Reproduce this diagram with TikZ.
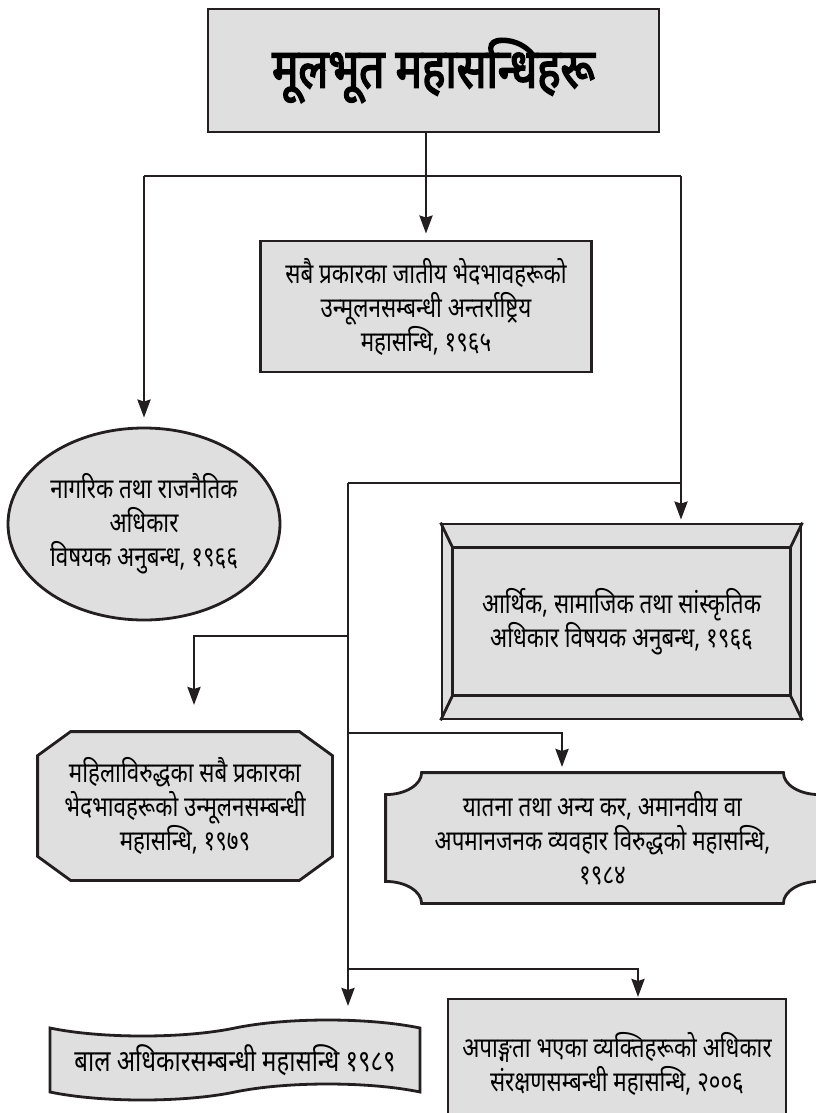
\documentclass[tikz,border=0pt]{standalone}
\usepackage{fontspec}
\newfontfamily\devfont[Script=Devanagari,FakeStretch=0.8]{Noto Sans}
\newfontfamily\devbold[Script=Devanagari,FakeStretch=0.8,FakeBold=3]{Noto Sans}
\usetikzlibrary{arrows.meta,shapes.geometric,shapes.symbols,backgrounds}
\definecolor{boxgray}{HTML}{DFDFDF}
\definecolor{inkline}{HTML}{231F20}
\tikzset{
  box/.style={draw=inkline,line width=2.8pt,fill=boxgray,align=center,inner sep=0pt,
    font=\devfont\fontsize{28pt}{34pt}\selectfont},
  wire/.style={draw=inkline,line width=2.7pt},
  arr/.style={wire,-{Stealth[length=18pt,width=13pt,inset=2pt]}},
}

\begin{document}
\begin{tikzpicture}[x=1pt,y=-1pt]
\useasboundingbox (0,0) rectangle (816,1113);
\clip (0,0) rectangle (816,1113);

% boxes
\node[box,minimum width=451pt,minimum height=123pt,font=\devbold\fontsize{55pt}{60pt}\selectfont]
   (title) at (433.5,70.5) {मूलभूत महासन्धिहरू};
\node[box,minimum width=331pt,minimum height=131pt] (racial) at (426,306.5)
   {सबै प्रकारका जातीय भेदभावहरूको\\उन्मूलनसम्बन्धी अन्तर्राष्ट्रिय\\महासन्धि, १९६५};
\node[box,ellipse,minimum width=272pt,minimum height=192pt] (civil) at (144,524)
   {नागरिक तथा राजनैतिक\\अधिकार\\विषयक अनुबन्ध, १९६६};
\node[box,minimum width=359pt,minimum height=195pt] (cultural) at (621.5,621.5)
   {आर्थिक, सामाजिक तथा सांस्कृतिक\\अधिकार विषयक अनुबन्ध, १९६६};
\draw[box,fill=none] ([shift={(12pt,-25pt)}]cultural.north west) rectangle ([shift={(-12pt,25pt)}]cultural.south east);
\foreach \c/\dx/\dy in {north west/12/-25,north east/-12/-25,south west/12/25,south east/-12/25}
   \draw[box] (cultural.\c) -- ([shift={(\dx pt,\dy pt)}]cultural.\c);
\node[box,draw=none,fill=none,minimum width=292pt,minimum height=146pt] (women) at (185,806)
   {महिलाविरुद्धका सबै प्रकारका\\भेदभावहरूको उन्मूलनसम्बन्धी\\महासन्धि, १९७९};
\node[box,draw=none,fill=none,minimum width=431pt,minimum height=128pt] (torture) at (602.5,838)
   {यातना तथा अन्य कर, अमानवीय वा\\अपमानजनक व्यवहार विरुद्धको महासन्धि,\\१९८४};
\begin{scope}[on background layer]
\path[box] ([xshift=33pt]women.north west) -- ([xshift=-33pt]women.north east)
   -- ([yshift=-24pt]women.north east) -- ([yshift=24pt]women.south east)
   -- ([xshift=-33pt]women.south east) -- ([xshift=33pt]women.south west)
   -- ([yshift=24pt]women.south west) -- ([yshift=-24pt]women.north west) -- cycle;
\path[box] ([xshift=36pt]torture.north west) -- ([xshift=-36pt]torture.north east)
   arc[start angle=180,end angle=270,x radius=36pt,y radius=22pt]
   -- ([yshift=22pt]torture.south east)
   arc[start angle=90,end angle=180,x radius=36pt,y radius=22pt]
   -- ([xshift=36pt]torture.south west)
   arc[start angle=0,end angle=90,x radius=36pt,y radius=22pt]
   -- ([yshift=-22pt]torture.north west)
   arc[start angle=270,end angle=360,x radius=36pt,y radius=22pt] -- cycle;
\end{scope}
\node[box,tape,tape bend height=16pt,minimum width=370pt,minimum height=80pt,
   font=\devfont\fontsize{30pt}{34pt}\selectfont] (child) at (235,1060)
   {बाल अधिकारसम्बन्धी महासन्धि १९८९};
\node[box,minimum width=338pt,minimum height=130pt] (disab) at (617,1064)
   {अपाङ्गता भएका व्यक्तिहरूको अधिकार\\संरक्षणसम्बन्धी महासन्धि, २००६};

% connectors
\coordinate (leftend) at (144,176);
\coordinate (rightend) at (681,176);
\coordinate (midjoin) at (681,483);
\coordinate (spine) at (348,483);
\coordinate (spineL) at (348,636);
\coordinate (spineR) at (348,733);
\coordinate (spineB) at (348,969);
\coordinate (womentop) at (194,705);
\coordinate (torturetop) at (562,767);
\coordinate (disabtop) at (638,997);
\coordinate (childtop) at (348,1006);

\draw[arr,shorten >=6pt] (title.south -| racial.north) -- (racial.north);
\draw[wire] (leftend) -- (rightend);
\draw[arr,shorten >=9pt] (leftend) -- (leftend |- civil.north);
\draw[arr,shorten >=3pt] (rightend) -- (rightend |- cultural.north);
\draw[wire] (midjoin) -- (spine);
\draw[arr] (spine) -- (childtop);
\draw[arr] (spineL) -| (womentop);
\draw[arr] (spineR) -| (torturetop);
\draw[arr] (spineB) -| (disabtop);
\end{tikzpicture}
\end{document}
